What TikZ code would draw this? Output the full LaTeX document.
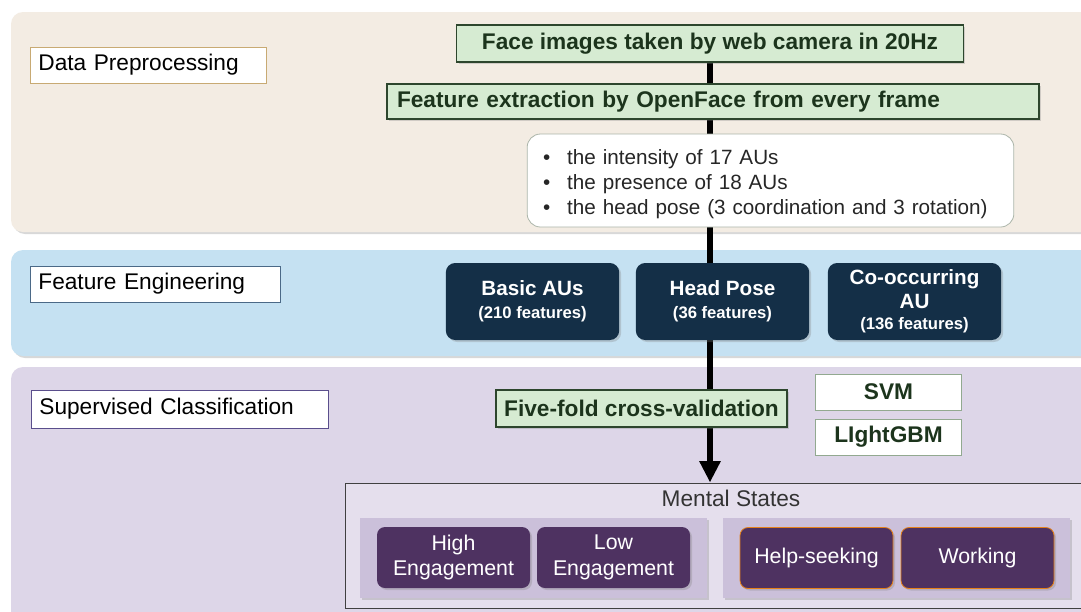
\documentclass[tikz,border=0pt]{standalone}
\usepackage{fontspec}
\setmainfont{Liberation Sans}
\usetikzlibrary{arrows.meta,shadows,backgrounds}
\tikzset{every picture/.style={line width=0.75pt}}

\definecolor{bandBeige}{RGB}{243,236,227}
\definecolor{bandBlue}{RGB}{197,225,242}
\definecolor{bandLilac}{RGB}{221,214,232}
\definecolor{stepGreen}{RGB}{214,235,210}
\definecolor{stepEdge}{RGB}{45,70,45}
\definecolor{stepText}{RGB}{28,52,28}
\definecolor{featNavy}{RGB}{20,47,71}
\definecolor{statePurple}{RGB}{78,50,97}
\definecolor{stateFrame}{RGB}{229,223,237}
\definecolor{stateGroup}{RGB}{203,192,218}
\definecolor{edgeTan}{RGB}{200,170,115}
\definecolor{edgeBlue}{RGB}{75,105,135}
\definecolor{edgeLilac}{RGB}{90,78,140}

\newcommand{\featcount}[1]{{\fontsize{12.5}{15}\selectfont #1}}

\tikzset{
  softshadow/.style={drop shadow={shadow xshift=1.5pt,shadow yshift=-1.5pt,opacity=0.3}},
  bandshape/.style={rounded corners=9pt,softshadow},
  phaselabel/.style={rectangle,fill=white,line width=0.6pt,anchor=west,
    font=\fontsize{17}{20}\selectfont,align=left,inner xsep=6pt,minimum height=27pt},
  greenbox/.style={rectangle,fill=stepGreen,draw=stepEdge,line width=1.2pt,
    text=stepText,font=\bfseries\fontsize{17}{20}\selectfont,softshadow},
  modelbox/.style={rectangle,fill=white,draw=stepGreen!60!stepEdge,line width=0.6pt,
    text=stepText,font=\bfseries\fontsize{17}{20}\selectfont,
    minimum width=110pt,minimum height=27pt},
  featbox/.style={rectangle,rounded corners=7pt,fill=featNavy,text=white,align=center,
    font=\bfseries\fontsize{15.5}{18}\selectfont,
    minimum width=130pt,minimum height=57.75pt,softshadow},
  statebox/.style={rectangle,rounded corners=6pt,fill=statePurple,text=white,align=center,
    font=\fontsize{16}{19}\selectfont,minimum width=114.75pt,minimum height=45.75pt,softshadow},
  groupbox/.style={rectangle,fill=stateGroup,minimum width=260.25pt,minimum height=60pt,softshadow},
  flowline/.style={line width=4.5pt,-{Triangle[width=15pt,length=16pt]}}
}

\begin{document}
\begin{tikzpicture}[x=0.75pt,y=0.75pt,yscale=-1,xscale=1]
\useasboundingbox (0,0) rectangle (1081,611);

% bands
\begin{scope}[on background layer]
\fill[white] (0,0) rectangle (1081,611);
%Shape: Rectangle
\fill[bandBeige,bandshape] (11,12) rectangle (1100,232);
%Shape: Rectangle
\fill[bandBlue,bandshape] (11,250) rectangle (1100,356);
%Shape: Rectangle
\fill[bandLilac,bandshape] (11,367) rectangle (1100,640);
\end{scope}

% Text Node
\node (prep) [phaselabel,draw=edgeTan,text width=165pt] at (30,65) {Data Preprocessing};
% Text Node
\node (feng) [phaselabel,draw=edgeBlue,text width=175.5pt] at (30,284) {Feature Engineering};
% Text Node
\node (supcls) [phaselabel,draw=edgeLilac,text width=210.75pt,minimum height=28.5pt] at (31,409) {Supervised Classification};

% Text Node
\node (face) [greenbox,minimum width=380pt,minimum height=27.75pt] at (710,43.5) {Face images taken by web camera in 20Hz};
% Text Node
\node (extract) [greenbox,text width=474pt,inner xsep=7.5pt,align=left,minimum height=26.25pt] at (713,101.5) {Feature extraction by OpenFace from every frame};
% Text Node
\node (aulist) [rectangle,rounded corners=10pt,fill=white,draw=stepGreen!50!gray,line width=0.6pt,
  text width=341pt,inner xsep=12pt,minimum height=69.75pt,align=left,
  font=\fontsize{15.5}{18.75}\selectfont,text=black!85] at (770.5,180.5)
  {\rule{0pt}{17pt}\makebox[18pt][l]{\textbullet}the intensity of 17 AUs\\
   \makebox[18pt][l]{\textbullet}the presence of 18 AUs\\
   \makebox[18pt][l]{\textbullet}the head pose (3 coordination and 3 rotation)};

% Text Node
\node (basic) [featbox] at (532.5,301.5) {Basic AUs\\[-1pt]\featcount{(210 features)}};
% Text Node
\node (headpose) [featbox] at (722.5,301.5) {Head Pose\\[-1pt]\featcount{(36 features)}};
% Text Node
\node (cooccur) [featbox] at (914.5,301.5) {Co-occurring\\AU\\[-2pt]\featcount{(136 features)}};

% Text Node
\node (fivefold) [greenbox,minimum width=218pt,minimum height=27.75pt] at (641.5,408.5) {Five-fold cross-validation};
% Text Node
\node (svm) [modelbox] at (888.5,392) {SVM};
% Text Node
\node (lgbm) [modelbox] at (888.5,437) {LIghtGBM};

%Shape: Rectangle
\node (mental) [rectangle,fill=stateFrame,draw=black!75,line width=0.75pt,
  minimum width=562.5pt,minimum height=93.75pt] at (720,545.5) {};
% Text Node
\node (mentaltitle) [font=\fontsize{17}{20}\selectfont,text=black!80] at (731,498) {Mental States};
%Shape: Rectangle
\node (engage) [groupbox] at (533.5,558) {};
%Shape: Rectangle
\node (activity) [groupbox] at (896.5,558) {};
% Text Node
\node (high) [statebox] at (453.5,557.5) {High\\Engagement};
% Text Node
\node (low) [statebox] at (613.5,557.5) {Low\\Engagement};
% Text Node
\node (help) [statebox,draw=orange!60!brown,line width=0.6pt] at (816.5,558) {Help-seeking};
% Text Node
\node (work) [statebox,draw=orange!60!brown,line width=0.6pt] at (977.5,558) {Working};

% flow
\begin{scope}[on background layer]
\draw[flowline] (face.south) -- (face.south |- mental.north);
\end{scope}

\end{tikzpicture}
\end{document}
